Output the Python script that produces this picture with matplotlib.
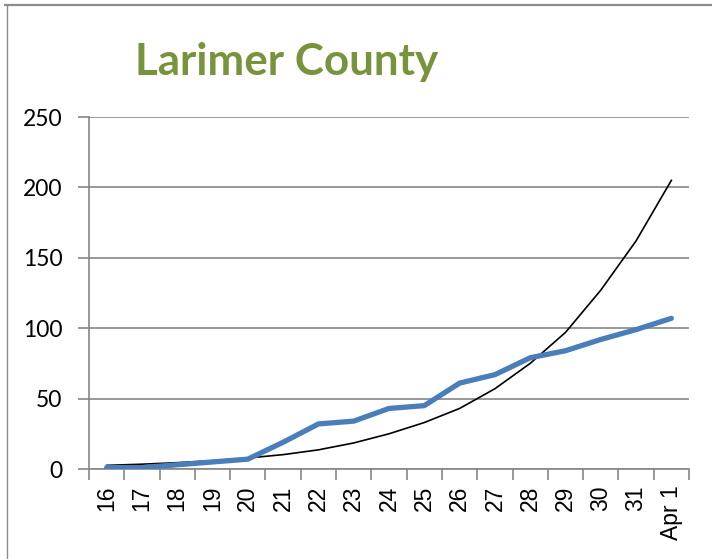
import matplotlib
matplotlib.use('Agg')
import matplotlib.pyplot as plt
from matplotlib.lines import Line2D

# Daily cumulative cases, Larimer County (March 16 - April 1)
days = ['16', '17', '18', '19', '20', '21', '22', '23', '24',
        '25', '26', '27', '28', '29', '30', '31', 'Apr 1']
cases = [1, 1, 3, 5, 7, 19, 32, 34, 43, 45, 61, 67, 79, 84, 92, 99, 107]
# exponential trendline, values
trend = [2.6, 3.4, 4.5, 5.9, 7.8, 10.2, 13.6, 18.5, 25, 33, 43, 57, 75, 97, 127, 162, 205]

W, H = 712, 559
fig = plt.figure(figsize=(W / 100, H / 100), dpi=100)
ax = fig.add_axes([89 / W, 1 - 469 / H, (689 - 89) / W, (469 - 117) / H])

x = list(range(len(days)))
grid_col = '#868686'

ax.plot(x, trend, color='black', lw=1.2, zorder=3)
ax.plot(x, cases, color='#4A7EBB', lw=3.8, solid_capstyle='round', zorder=4)

ax.set_xlim(-0.5, len(days) - 0.5)
ax.set_ylim(0, 250)
ax.set_yticks(range(0, 251, 50))
ax.yaxis.grid(True, color=grid_col, lw=1.2)
ax.set_axisbelow(True)

ax.set_xticks(x)
ax.set_xticklabels(days, rotation=90, fontsize=16.5, family='Liberation Sans', va='top')
ax.set_xticks([i - 0.5 for i in range(len(days) + 1)], minor=True)
ax.tick_params(axis='x', which='major', length=0, pad=12)
ax.tick_params(axis='x', which='minor', length=8, width=1.2, color=grid_col)
ax.tick_params(axis='y', length=8, width=1.2, color=grid_col, pad=11, labelsize=16.5)
for lab in ax.get_yticklabels():
    lab.set_family('Lato')

for s in ['top', 'right']:
    ax.spines[s].set_visible(False)
for s in ['left', 'bottom']:
    ax.spines[s].set_color(grid_col)
    ax.spines[s].set_linewidth(1.2)

fig.text(135 / W, 1 - 75 / H, 'Larimer County', fontsize=31.7, fontweight='bold',
         family='Lato', color='#77933C', va='baseline', ha='left')

# chart frame (top and left edges visible)
fig.add_artist(Line2D([5 / W, 1], [1 - 5 / H, 1 - 5 / H], color='#8C8C8C', lw=1.6))
fig.add_artist(Line2D([6.5 / W, 6.5 / W], [0, 1 - 5 / H], color='#8C8C8C', lw=1.0))

fig.savefig('out.png', dpi=100)
